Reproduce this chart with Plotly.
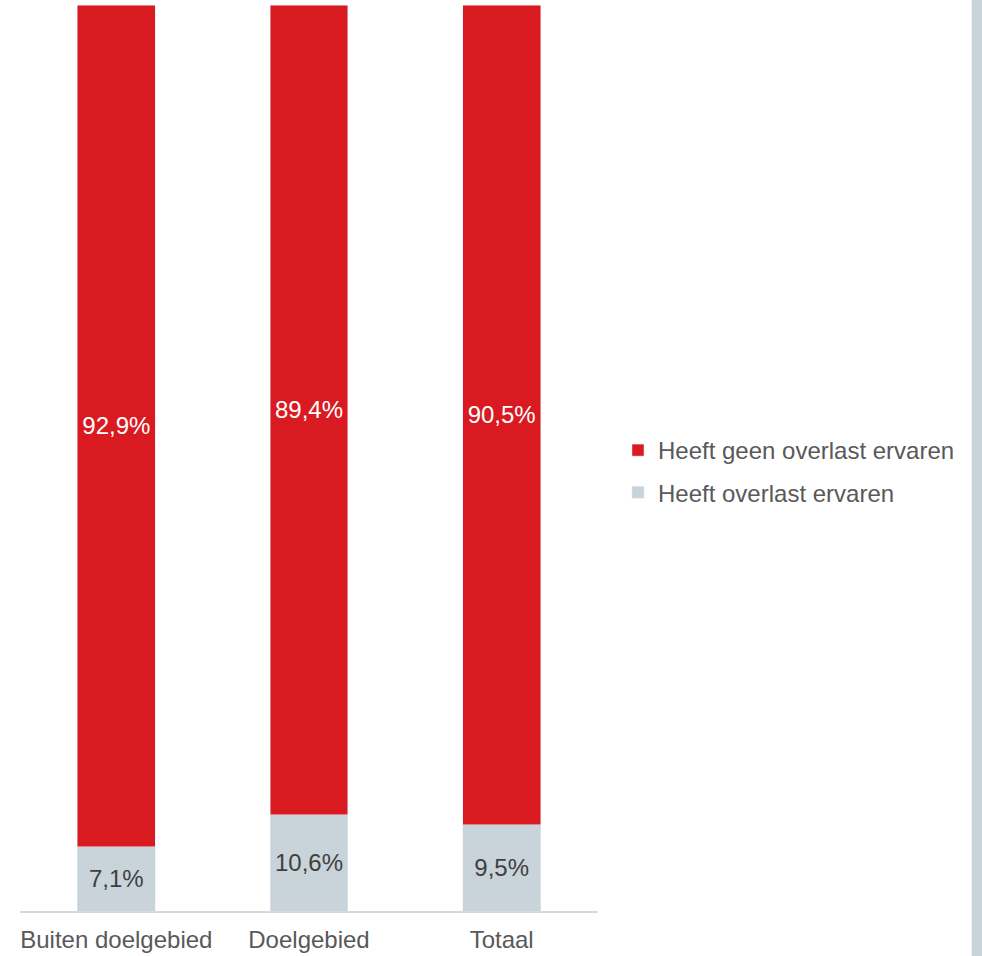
import plotly.graph_objects as go

categories = ["Buiten doelgebied", "Doelgebied", "Totaal"]
geen_overlast = [92.9, 89.4, 90.5]
wel_overlast = [7.1, 10.6, 9.5]
name_geen = "Heeft geen overlast ervaren"
name_wel = "Heeft overlast ervaren"

RED = "#d91a21"
GREY = "#c8d4da"
TXT = "#595959"
FONT = "Liberation Sans, Arial, sans-serif"

def fmt(v):
    return f"{v:.1f}".replace(".", ",") + "%"

fig = go.Figure()
fig.add_trace(go.Bar(
    x=categories, y=wel_overlast, name=name_wel, marker_color=GREY,
    text=[fmt(v) for v in wel_overlast], textposition="inside",
    insidetextanchor="middle", textangle=0, constraintext="none",
    insidetextfont=dict(color="#404040", size=24, family=FONT),
    legendgroup="b", legendrank=2, hoverinfo="skip",
))
fig.add_trace(go.Bar(
    x=categories, y=geen_overlast, name=name_geen, marker_color=RED,
    text=[fmt(v) for v in geen_overlast], textposition="inside",
    insidetextanchor="middle", textangle=0, constraintext="none",
    insidetextfont=dict(color="white", size=24, family=FONT),
    legendgroup="a", legendrank=1, hoverinfo="skip",
))

W, H = 982, 956
L, R_, T, B = 19.5, 384, 5, 45
pw = W - L - R_
ph = H - T - B

fig.update_layout(
    width=W, height=H,
    margin=dict(l=L, r=R_, t=T, b=B, pad=0, autoexpand=False),
    barmode="stack", bargap=0.596,
    plot_bgcolor="white", paper_bgcolor="white",
    font=dict(family=FONT, size=24, color=TXT),
    showlegend=True,
    legend=dict(
        x=(618 - L) / pw, xanchor="left",
        y=(911 - 428) / ph, yanchor="top",
        traceorder="grouped", tracegroupgap=8,
        font=dict(size=24, color=TXT, family=FONT),
        bgcolor="rgba(0,0,0,0)", itemwidth=30,
    ),
    xaxis=dict(
        showline=True, linecolor="#d9d9d9", linewidth=2,
        ticks="", showgrid=False, tickfont=dict(size=24, color=TXT),
        ticklabelstandoff=6, automargin=False,
    ),
    yaxis=dict(
        range=[0, 100], visible=False, showgrid=False, automargin=False,
    ),
    shapes=[dict(
        type="rect", xref="paper", yref="paper",
        x0=(972 - L) / pw, x1=(995 - L) / pw, y0=-0.1, y1=1.1,
        fillcolor=GREY, line=dict(width=0), layer="below",
    )],
)

fig.write_html(
    "out.html",
    config={"displayModeBar": False},
    post_script="document.body.style.margin='0';document.body.style.overflow='hidden';",
)
